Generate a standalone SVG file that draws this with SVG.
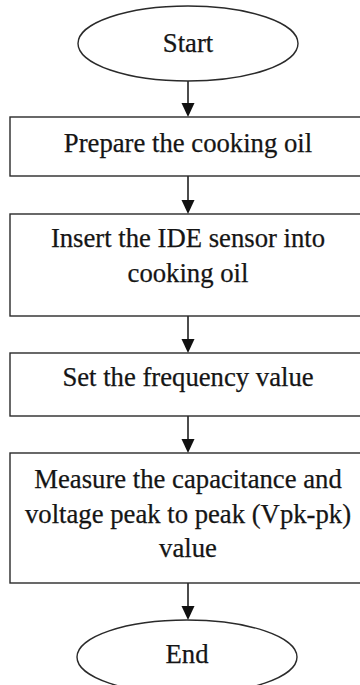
<svg xmlns="http://www.w3.org/2000/svg" width="360" height="685" viewBox="0 0 360 685">
<defs>
<style>
.shape{fill:#ffffff;stroke:#2a2a2a;stroke-width:1.4}
.lbl{font-family:"Liberation Serif","Times New Roman",serif;font-size:26.7px;fill:#151515;stroke:#151515;stroke-width:0.25;text-anchor:middle}
.conn{stroke:#111111;stroke-width:1.5;fill:none}
.head{fill:#111111;stroke:none}
</style>
</defs>
<rect width="360" height="685" fill="#ffffff"/>
<g id="connectors">
<line class="conn" x1="188" y1="81" x2="188" y2="105"/>
<polygon class="head" points="181.5,103 194.5,103 188,117"/>
<line class="conn" x1="188" y1="176" x2="188" y2="202"/>
<polygon class="head" points="181.5,200 194.5,200 188,214"/>
<line class="conn" x1="188" y1="316" x2="188" y2="341"/>
<polygon class="head" points="181.5,339 194.5,339 188,353"/>
<line class="conn" x1="188" y1="416" x2="188" y2="441"/>
<polygon class="head" points="181.5,439 194.5,439 188,453"/>
<line class="conn" x1="188" y1="583" x2="188" y2="608"/>
<polygon class="head" points="181.5,606 194.5,606 188,620"/>
</g>
<g id="start">
<ellipse class="shape" cx="188" cy="43.5" rx="110" ry="37.5"/>
<text class="lbl" x="188" y="52">Start</text>
</g>
<g id="prepare">
<rect class="shape" x="10" y="117" width="360" height="59"/>
<text class="lbl" x="188" y="152">Prepare the cooking oil</text>
</g>
<g id="insert">
<rect class="shape" x="10" y="214" width="360" height="102"/>
<text class="lbl" x="188" y="247">Insert the IDE sensor into</text>
<text class="lbl" x="188" y="282">cooking oil</text>
</g>
<g id="setfreq">
<rect class="shape" x="10" y="353" width="360" height="63"/>
<text class="lbl" x="188" y="386">Set the frequency value</text>
</g>
<g id="measure">
<rect class="shape" x="10" y="453" width="360" height="130"/>
<text class="lbl" x="188" y="488">Measure the capacitance and</text>
<text class="lbl" x="188" y="523">voltage peak to peak (Vpk-pk)</text>
<text class="lbl" x="188" y="557">value</text>
</g>
<g id="end">
<ellipse class="shape" cx="187" cy="657" rx="110" ry="37"/>
<text class="lbl" x="187" y="663">End</text>
</g>
</svg>
